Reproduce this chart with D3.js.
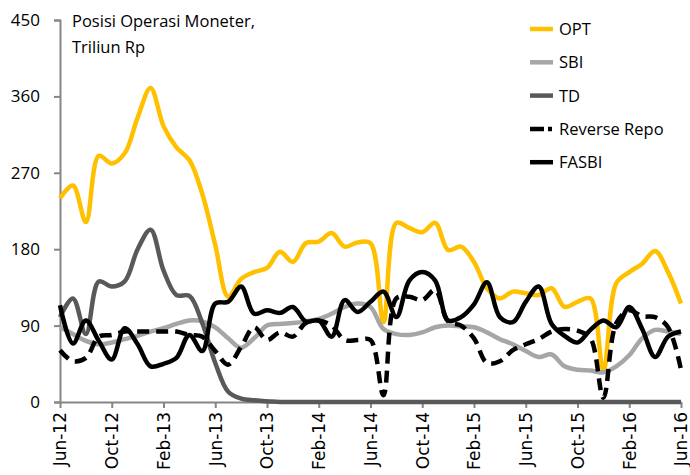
<!DOCTYPE html>
<html>
<head>
<meta charset="utf-8">
<script src="https://cdnjs.cloudflare.com/ajax/libs/d3/7.8.5/d3.min.js"></script>
<style>
  body { margin: 0; background: #fff; }
  svg { display: block; }
  .axis path, .axis line { stroke: #868686; stroke-width: 2; }
</style>
</head>
<body>
<script>
// monthly, Jun-12 .. Jun-16 (49 points)
var tickLabels = ["Jun-12","Oct-12","Feb-13","Jun-13","Oct-13","Feb-14","Jun-14",
                  "Oct-14","Feb-15","Jun-15","Oct-15","Feb-16","Jun-16"];
var yTicks = [0, 90, 180, 270, 360, 450];

var opt = [240,255,212,290,281,293,335,370,325,300,285,245,185,124,145,153,158,177,165,187,
           189,199,183,188,187,94,211,205,200,211,179,183,165,134,122,130,128,126,134,112,
           118,122,37,140,153,163,178,153,116];
var sbi = [88,80,72,68,70,74,78,83,87,92,96,95,88,75,64,75,90,92,93,95,
           98,104,112,116,112,86,80,79,82,88,90,89,88,82,74,68,60,53,56,42,
           38,37,35,42,55,75,85,83,80];
var td = [100,122,80,142,136,142,180,203,155,126,125,93,46,12,4,2,1,0,0,0,
          0,0,0,0,0,0,0,0,0,0,0,0,0,0,0,0,0,0,0,0,
          0,0,0,0,0,0,0,0,0];
var reverseRepo = [61,48,52,77,79,83,83,83,83,83,79,77,60,44,65,88,73,82,77,93,
                   96,90,73,73,73,8,122,124,120,132,95,90,75,46,48,61,68,74,83,86,
                   84,75,5,93,108,101,100,88,38];
var fasbi = [114,69,96,72,50,87,68,42,45,52,79,60,116,118,136,104,108,105,112,95,
             96,77,120,106,118,130,100,143,153,143,96,100,115,141,100,94,118,136,92,78,
             70,85,96,88,112,86,53,77,83];

var seriesNames = ["OPT", "SBI", "TD", "Reverse Repo", "FASBI"];
var seriesData = [opt, sbi, td, reverseRepo, fasbi];
var seriesColors = ["#FFC000", "#A6A6A6", "#595959", "#000000", "#000000"];
var seriesDash = [null, null, null, "12,7", null];

var width = 690, height = 475;

var svg = d3.select("body").append("svg")
    .attr("width", width)
    .attr("height", height);

var x = d3.scaleLinear().domain([0, 48]).range([60, 681]);
var y = d3.scaleLinear().domain([0, 450]).range([402, 20]);

var yAxis = d3.axisLeft(y)
    .tickValues(yTicks)
    .tickSize(6)
    .tickPadding(14);

var xAxis = d3.axisBottom(x)
    .tickValues(d3.range(0, 49, 4))
    .tickFormat(function(d, i) { return tickLabels[i]; })
    .tickSize(6)
    .tickSizeOuter(0);

svg.append("g")
    .attr("class", "y axis")
    .attr("transform", "translate(60,0)")
    .call(yAxis)
    .call(g => g.selectAll("text")
        .style("font-family", "Open Sans")
        .style("font-size", "17px")
        .attr("fill", "#000"));

svg.append("g")
    .attr("class", "x axis")
    .attr("transform", "translate(0,402)")
    .call(xAxis)
    .call(g => g.selectAll("text")
        .attr("transform", "rotate(-90)")
        .attr("x", -10)
        .attr("y", 0)
        .attr("dy", "0.35em")
        .style("text-anchor", "end")
        .style("font-family", "DejaVu Sans")
        .style("font-size", "17px")
        .attr("fill", "#000"));

var line = d3.line()
    .x(function(d, i) { return x(i); })
    .y(function(d) { return y(d); })
    .curve(d3.curveCatmullRom.alpha(0.5));

seriesData.forEach(function(vals, k) {
    svg.append("path")
        .datum(vals)
        .attr("fill", "none")
        .attr("stroke", seriesColors[k])
        .attr("stroke-width", 4.5)
        .attr("stroke-dasharray", seriesDash[k])
        .attr("stroke-linejoin", "round")
        .attr("d", line);
});

// title
var title = svg.append("text")
    .style("font-family", "Open Sans")
    .style("font-size", "16.5px")
    .attr("fill", "#000");
title.append("tspan").attr("x", 72).attr("y", 27).text("Posisi Operasi Moneter,");
title.append("tspan").attr("x", 72).attr("y", 53).text("Triliun Rp");

// legend
var legend = svg.append("g").attr("class", "legend");
seriesNames.forEach(function(name, k) {
    var ly = 29 + k * 33.3;
    legend.append("line")
        .attr("x1", 530).attr("x2", 553)
        .attr("y1", ly).attr("y2", ly)
        .attr("stroke", seriesColors[k])
        .attr("stroke-width", 4.5)
        .attr("stroke-dasharray", k === 3 ? "14,4,4,10" : null);
    legend.append("text")
        .attr("x", 559)
        .attr("y", ly)
        .attr("dy", "0.36em")
        .style("font-family", "Open Sans")
        .style("font-size", "16.5px")
        .attr("fill", "#000")
        .text(name);
});
</script>
</body>
</html>
